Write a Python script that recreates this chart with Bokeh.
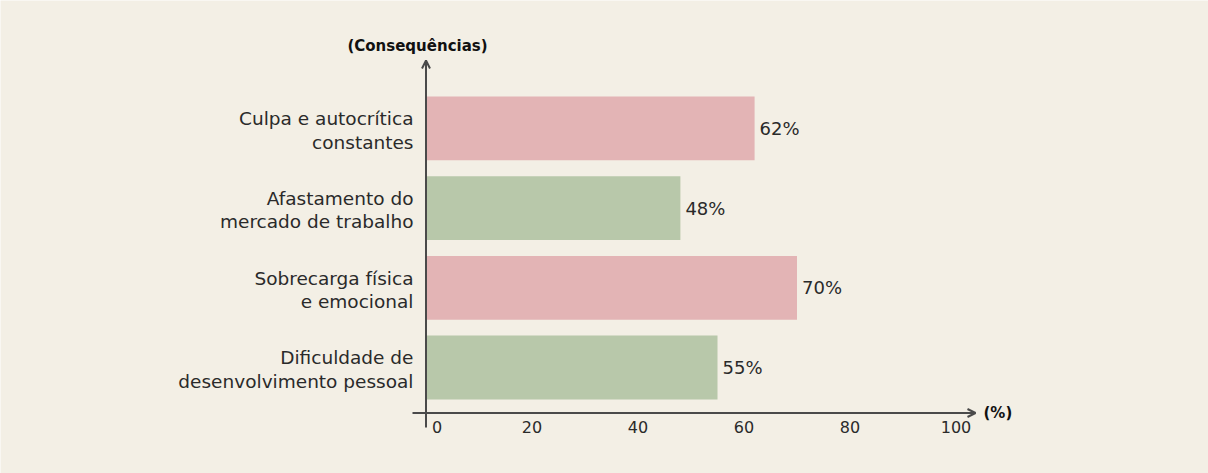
from bokeh.plotting import figure
from bokeh.models import Range1d, ColumnDataSource, Arrow, OpenHead, Label
from bokeh.core.properties import value
from bokeh.embed import file_html
from bokeh.resources import INLINE

# ---- data ----
categories = [
    "Culpa e autocrítica\nconstantes",
    "Afastamento do\nmercado de trabalho",
    "Sobrecarga física\ne emocional",
    "Dificuldade de\ndesenvolvimento pessoal",
]
values = [62, 48, 70, 55]
bar_colors = ["#E3B4B5", "#B8C8AA", "#E3B4B5", "#B8C8AA"]
x_ticks = [0, 20, 40, 60, 80, 100]
x_tick_labels = ["0", "20", "40", "60", "80", "100"]
y_axis_title = "(Consequências)"
x_axis_title = "(%)"

# ---- geometry / style ----
BG = "#F3EFE5"
AXIS = "#4A4A4A"
TXT = "#2A2A2A"
FONT = "DejaVu Sans"
W, H = 1208, 473
PX = 5.3          # pixels per percentage point
ORIGIN_X = 425.5  # px where x = 0
ROW = 79.7        # pixels between category rows
ORIGIN_Y = 367.0  # px (from top) of bottom row centre


def fx(px_x):
    return (px_x - ORIGIN_X) / PX


def fy(px_y):
    return (ORIGIN_Y - px_y) / ROW


n = len(categories)
ypos = [n - 1 - i for i in range(n)]
source = ColumnDataSource(dict(
    y=ypos, v=values, color=bar_colors, cat=categories,
    vlabel=[f"{v}%" for v in values],
))

p = figure(
    width=W, height=H,
    x_range=Range1d(-ORIGIN_X / PX, (W - ORIGIN_X) / PX),
    y_range=Range1d(-(H - ORIGIN_Y) / ROW, ORIGIN_Y / ROW),
    x_axis_location=None, y_axis_location=None,
    output_backend="svg", toolbar_location=None,
    min_border=0, background_fill_color=BG, border_fill_color=BG,
    outline_line_color=None,
)
p.grid.visible = False

p.hbar(y="y", left=0, right="v", height=0.80, fill_color="color",
       line_color=None, source=source)

# value labels
p.text(x="v", y="y", text="vlabel", source=source, x_offset=5,
       text_font=value(FONT), text_font_size="18px", text_color=TXT,
       text_align="left", text_baseline="middle")

# category labels
p.text(x=fx(413), y="y", text="cat", source=source, y_offset=2,
       text_font=value(FONT), text_font_size="18.5px", text_color=TXT,
       text_align="right", text_baseline="middle", text_line_height=1.12)

# x tick labels
p.text(x=x_ticks[:1], y=fy(426), text=x_tick_labels[:1], x_offset=11,
       text_font=value(FONT), text_font_size="16px", text_color=TXT,
       text_align="center", text_baseline="middle")
p.text(x=x_ticks[1:], y=fy(426), text=x_tick_labels[1:],
       text_font=value(FONT), text_font_size="16px", text_color=TXT,
       text_align="center", text_baseline="middle")

# axes lines with arrows
p.add_layout(Arrow(end=OpenHead(size=8, line_color=AXIS, line_width=2),
                   x_start=fx(412), y_start=fy(412.5),
                   x_end=fx(975), y_end=fy(412.5),
                   line_color=AXIS, line_width=2))
p.add_layout(Arrow(end=OpenHead(size=8, line_color=AXIS, line_width=2),
                   x_start=0, y_start=fy(427),
                   x_end=0, y_end=fy(60),
                   line_color=AXIS, line_width=2))

p.add_layout(Label(x=fx(417), y=fy(45), text=y_axis_title,
                   text_font=FONT, text_font_size="15px", text_font_style="bold",
                   text_color="#111111", text_align="center", text_baseline="middle"))
p.add_layout(Label(x=fx(983), y=fy(412), text=x_axis_title,
                   text_font=FONT, text_font_size="15px", text_font_style="bold",
                   text_color="#111111", text_align="left", text_baseline="middle"))

open("out.html", "w").write(file_html(p, INLINE))
